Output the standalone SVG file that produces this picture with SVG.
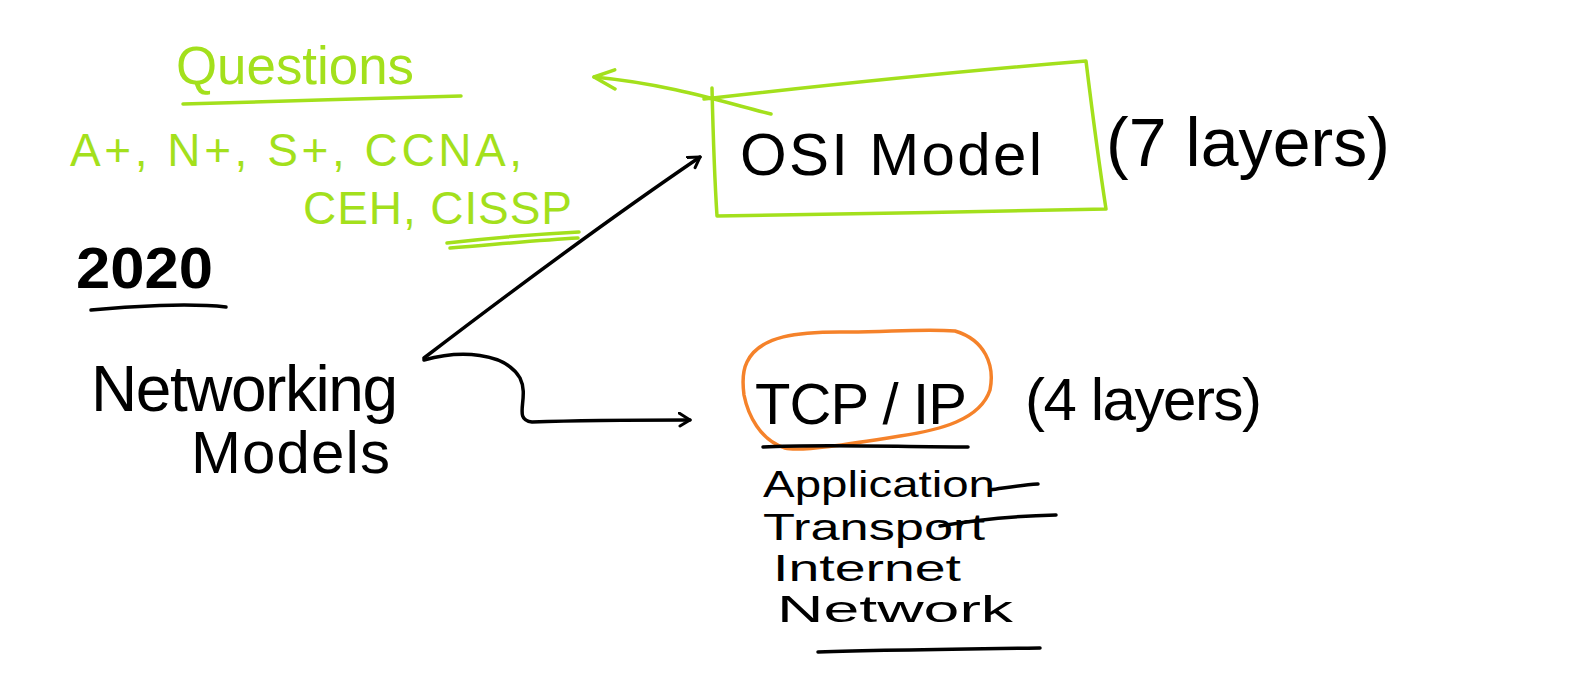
<svg xmlns="http://www.w3.org/2000/svg" width="1579" height="683" viewBox="0 0 1579 683">
<style>
.g{fill:#a3e01c;font-family:"Liberation Sans",Arial,sans-serif}
.k{fill:#000;font-family:"Liberation Sans",Arial,sans-serif}
.gs{fill:none;stroke:#a3e01c;stroke-width:3.5;stroke-linecap:round;stroke-linejoin:round}
.ks{fill:none;stroke:#000;stroke-width:3.5;stroke-linecap:round;stroke-linejoin:round}
.os{fill:none;stroke:#f5822a;stroke-width:3.5;stroke-linecap:round;stroke-linejoin:round}
</style>
<defs>
<marker id="ah" viewBox="-12 -8 14 16" refX="0" refY="0" markerWidth="14" markerHeight="16" markerUnits="userSpaceOnUse" orient="auto">
<path d="M-11,-7 L0,0 L-10,6" fill="none" stroke="#000" stroke-width="3" stroke-linecap="round" stroke-linejoin="round"/>
</marker>
<marker id="ahg" viewBox="-26 -12 30 24" refX="0" refY="0" markerWidth="30" markerHeight="24" markerUnits="userSpaceOnUse" orient="auto">
<path d="M-22,-10 L0,0 L-20,9" fill="none" stroke="#a3e01c" stroke-width="3.5" stroke-linecap="round" stroke-linejoin="round"/>
</marker>
</defs>
<rect width="1579" height="683" fill="#fff"/>

<g id="questions">
<text class="g" x="176" y="84" font-size="54" textLength="238" lengthAdjust="spacingAndGlyphs">Questions</text>
<path class="gs" d="M183,104 C260,101 380,99 461,96"/>
<text class="g" x="70" y="166" font-size="46" textLength="452" lengthAdjust="spacing">A+, N+, S+, CCNA,</text>
<text class="g" x="303" y="224" font-size="46" textLength="269" lengthAdjust="spacing">CEH, CISSP</text>
<path class="gs" d="M447,243 C490,238 540,234 579,232 M450,248 C500,244 540,240 578,238"/>
</g>

<g id="year">
<text class="k" x="76" y="288" font-size="58" font-weight="bold" textLength="137" lengthAdjust="spacingAndGlyphs">2020</text>
<path class="ks" d="M91,310 C130,306 190,303 226,307" stroke-width="5"/>
</g>

<g id="networking-models">
<text class="k" x="91" y="411" font-size="64" textLength="307" lengthAdjust="spacing">Networking</text>
<text class="k" x="191" y="473" font-size="60" textLength="199" lengthAdjust="spacing">Models</text>
</g>

<g id="osi-model">
<path class="gs" d="M704,99 C800,88 950,72 1086,61 C1092,110 1100,170 1106,209 C980,212 840,214 717,216 C714,170 713,130 712,88"/>
<text class="k" x="740" y="175" font-size="60" textLength="302" lengthAdjust="spacing">OSI Model</text>
<text class="k" x="1106" y="166" font-size="68" textLength="284" lengthAdjust="spacing">(7 layers)</text>
</g>

<g id="tcp-ip">
<path class="os" d="M747,362 C760,335 800,332 840,332 C880,333 920,328 955,331 C985,340 995,365 990,390 C980,420 940,430 900,436 C850,444 800,452 785,448 C760,440 748,415 744,395 C742,380 744,368 747,362"/>
<text class="k" x="755" y="424" font-size="58" textLength="212" lengthAdjust="spacing">TCP / IP</text>
<path class="ks" d="M763,447 C820,444 900,447 968,447"/>
<text class="k" x="1025" y="420" font-size="60" textLength="237" lengthAdjust="spacing">(4 layers)</text>
<text class="k" x="763" y="497" font-size="36" textLength="232" lengthAdjust="spacingAndGlyphs">Application</text>
<path class="ks" d="M990,490 C1005,488 1020,485 1038,484"/>
<text class="k" x="763" y="540" font-size="36" textLength="222" lengthAdjust="spacingAndGlyphs">Transport</text>
<path class="ks" d="M940,526 C975,520 1010,516 1056,515"/>
<text class="k" x="773" y="581" font-size="36" textLength="188" lengthAdjust="spacingAndGlyphs">Internet</text>
<text class="k" x="777" y="622" font-size="36" textLength="236" lengthAdjust="spacingAndGlyphs">Network</text>
<path class="ks" d="M818,652 C880,650 960,649 1040,648"/>
</g>

<g id="connectors">
<path class="gs" d="M771,114 C730,104 670,84 594,77" marker-end="url(#ahg)"/>
<path class="ks" d="M424,358 C500,300 600,225 700,157" marker-end="url(#ah)"/>
<path class="ks" d="M424,360 C460,350 505,352 520,378 C530,398 512,420 532,422 C590,420 640,420 690,420" stroke-width="3" marker-end="url(#ah)"/>
</g>
</svg>
